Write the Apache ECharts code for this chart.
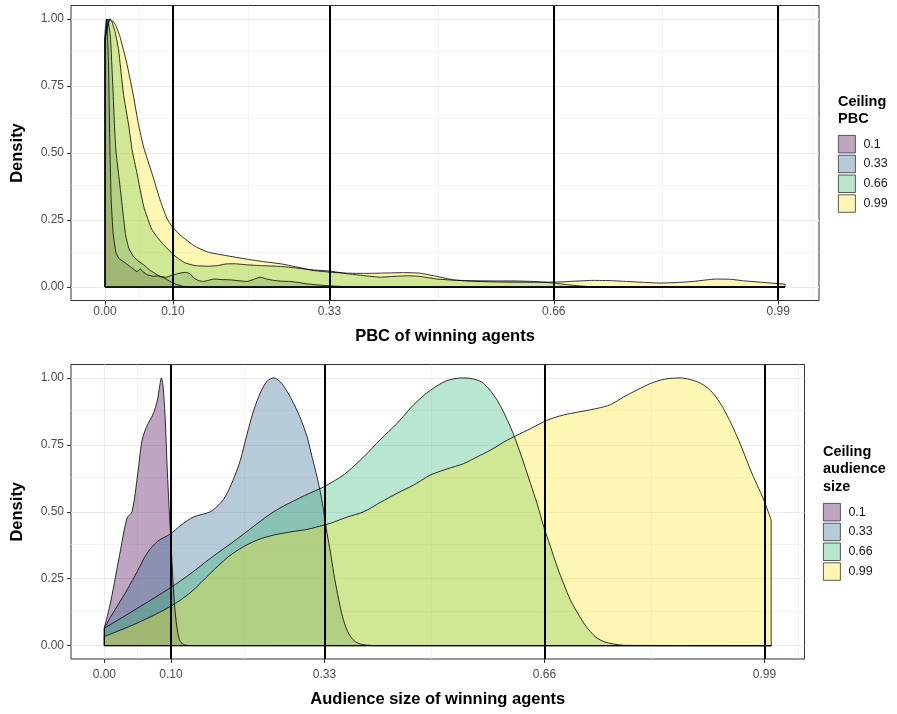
<!DOCTYPE html>
<html>
<head>
<meta charset="utf-8">
<script src="https://cdn.jsdelivr.net/npm/echarts@6/dist/echarts.min.js"></script>
<style>html,body{margin:0;padding:0;background:#fff}#c{width:897px;height:714px}</style>
</head>
<body>
<div id="c"></div>
<script>
// ---------- data ----------
const seriesNames = ['0.1', '0.33', '0.66', '0.99'];
const ceilings = [0.1, 0.33, 0.66, 0.99];
const xTickValues = [0, 0.1, 0.33, 0.66, 0.99];
const xTickLabels = ['0.00', '0.10', '0.33', '0.66', '0.99'];
const yTickValues = [0, 0.25, 0.5, 0.75, 1];
const yTickLabels = ['0.00', '0.25', '0.50', '0.75', '1.00'];
const xMinorGrid = [0.05, 0.215, 0.495, 0.825, 1.04];
const yMinorGrid = [0.125, 0.375, 0.625, 0.875];

// Top panel: PBC of winning agents (scaled density)
const pbcX_01 = [0, 0.002, 0.005, 0.007, 0.009, 0.012, 0.016, 0.02, 0.027, 0.035, 0.04, 0.047, 0.052, 0.057, 0.062, 0.067, 0.071, 0.077, 0.084, 0.09, 0.096, 0.105, 0.115, 0.13, 1.0];
const pbcY_01 = [0.95, 1.0, 0.85, 0.55, 0.33, 0.2, 0.13, 0.108, 0.095, 0.08, 0.071, 0.058, 0.067, 0.055, 0.046, 0.043, 0.04, 0.042, 0.037, 0.03, 0.021, 0.01, 0.003, 0, 0];
const pbcX_033 = [0, 0.004, 0.008, 0.012, 0.014, 0.016, 0.02, 0.025, 0.03, 0.035, 0.042, 0.05, 0.057, 0.065, 0.071, 0.081, 0.09, 0.096, 0.104, 0.11, 0.118, 0.125, 0.13, 0.138, 0.145, 0.152, 0.16, 0.172, 0.184, 0.196, 0.209, 0.22, 0.228, 0.238, 0.248, 0.26, 0.272, 0.285, 0.297, 0.313, 0.329, 0.35, 0.38, 1.0];
const pbcY_033 = [0.93, 1.0, 0.93, 0.72, 0.6, 0.51, 0.42, 0.31, 0.2, 0.145, 0.114, 0.095, 0.083, 0.065, 0.055, 0.04, 0.037, 0.042, 0.048, 0.052, 0.055, 0.05, 0.035, 0.024, 0.021, 0.025, 0.03, 0.028, 0.027, 0.024, 0.021, 0.03, 0.037, 0.03, 0.025, 0.022, 0.021, 0.017, 0.012, 0.008, 0.005, 0.002, 0, 0];
const pbcX_066 = [0, 0.006, 0.01, 0.015, 0.02, 0.027, 0.035, 0.04, 0.047, 0.057, 0.069, 0.084, 0.101, 0.11, 0.118, 0.133, 0.152, 0.165, 0.177, 0.19, 0.209, 0.23, 0.258, 0.282, 0.306, 0.33, 0.356, 0.38, 0.405, 0.425, 0.445, 0.463, 0.488, 0.512, 0.537, 0.57, 0.6, 0.63, 0.66, 0.68, 0.7, 0.72, 0.75, 1.0];
const pbcY_066 = [0.93, 1.0, 0.99, 0.95, 0.884, 0.723, 0.6, 0.51, 0.425, 0.3, 0.214, 0.164, 0.12, 0.102, 0.09, 0.08, 0.078, 0.08, 0.086, 0.087, 0.083, 0.08, 0.077, 0.071, 0.064, 0.06, 0.05, 0.043, 0.037, 0.04, 0.042, 0.04, 0.03, 0.026, 0.024, 0.023, 0.023, 0.021, 0.015, 0.009, 0.004, 0.001, 0, 0];
const pbcX_099 = [0, 0.0076, 0.015, 0.022, 0.032, 0.042, 0.049, 0.057, 0.069, 0.081, 0.091, 0.099, 0.113, 0.133, 0.152, 0.177, 0.209, 0.233, 0.258, 0.282, 0.306, 0.329, 0.356, 0.38, 0.405, 0.42, 0.439, 0.463, 0.488, 0.512, 0.537, 0.58, 0.62, 0.669, 0.69, 0.718, 0.745, 0.767, 0.79, 0.816, 0.84, 0.865, 0.885, 0.899, 0.92, 0.939, 0.97, 1.0];
const pbcY_099 = [0.92, 1.0, 0.98, 0.934, 0.835, 0.71, 0.61, 0.52, 0.425, 0.325, 0.257, 0.224, 0.189, 0.151, 0.13, 0.118, 0.104, 0.095, 0.087, 0.075, 0.062, 0.056, 0.052, 0.051, 0.052, 0.053, 0.054, 0.052, 0.04, 0.027, 0.022, 0.019, 0.018, 0.019, 0.022, 0.025, 0.024, 0.021, 0.018, 0.015, 0.017, 0.021, 0.027, 0.03, 0.029, 0.0235, 0.017, 0.011];

// Bottom panel: audience size of winning agents (scaled density)
const audX_01 = [0, 0.009, 0.0215, 0.034, 0.0415, 0.05, 0.056, 0.062, 0.068, 0.074, 0.079, 0.083, 0.0855, 0.088, 0.091, 0.094, 0.097, 0.1, 0.103, 0.106, 0.11, 0.114, 0.12, 0.13, 1.0];
const audY_01 = [0.066, 0.158, 0.32, 0.476, 0.5, 0.64, 0.76, 0.81, 0.84, 0.87, 0.91, 0.97, 1.0, 0.97, 0.86, 0.68, 0.52, 0.38, 0.24, 0.13, 0.05, 0.015, 0.003, 0, 0];
const audX_033 = [0, 0.01, 0.02, 0.034, 0.05, 0.064, 0.08, 0.099, 0.115, 0.134, 0.159, 0.175, 0.184, 0.195, 0.204, 0.214, 0.224, 0.235, 0.245, 0.254, 0.264, 0.274, 0.284, 0.294, 0.304, 0.312, 0.319, 0.325, 0.329, 0.334, 0.339, 0.344, 0.35, 0.356, 0.362, 0.369, 0.378, 0.39, 0.41, 1.0];
const audY_033 = [0.065, 0.11, 0.15, 0.208, 0.28, 0.345, 0.39, 0.417, 0.45, 0.481, 0.5, 0.535, 0.569, 0.63, 0.693, 0.79, 0.879, 0.95, 0.99, 1.0, 0.985, 0.95, 0.904, 0.85, 0.78, 0.7, 0.63, 0.56, 0.5, 0.42, 0.35, 0.27, 0.19, 0.12, 0.07, 0.035, 0.012, 0.003, 0, 0];
const audX_066 = [0, 0.05, 0.099, 0.13, 0.159, 0.2, 0.254, 0.3, 0.329, 0.36, 0.389, 0.414, 0.439, 0.464, 0.489, 0.514, 0.539, 0.555, 0.569, 0.589, 0.609, 0.624, 0.639, 0.649, 0.659, 0.669, 0.679, 0.689, 0.699, 0.709, 0.719, 0.729, 0.739, 0.75, 0.764, 0.78, 1.0];
const audY_066 = [0.065, 0.14, 0.216, 0.27, 0.326, 0.4, 0.5, 0.56, 0.593, 0.64, 0.705, 0.77, 0.83, 0.9, 0.954, 0.99, 1.0, 0.995, 0.979, 0.917, 0.817, 0.718, 0.606, 0.53, 0.444, 0.37, 0.295, 0.23, 0.17, 0.125, 0.084, 0.052, 0.028, 0.014, 0.006, 0.001, 0];
const audX_099 = [0, 0.05, 0.099, 0.13, 0.159, 0.185, 0.209, 0.23, 0.254, 0.28, 0.304, 0.329, 0.339, 0.364, 0.389, 0.414, 0.439, 0.464, 0.489, 0.514, 0.539, 0.559, 0.579, 0.599, 0.619, 0.639, 0.659, 0.679, 0.699, 0.719, 0.739, 0.759, 0.779, 0.799, 0.819, 0.84, 0.864, 0.884, 0.899, 0.912, 0.924, 0.937, 0.949, 0.959, 0.969, 0.979, 0.989, 1.0];
const audY_099 = [0.034, 0.085, 0.146, 0.2, 0.27, 0.33, 0.37, 0.395, 0.413, 0.425, 0.434, 0.45, 0.457, 0.48, 0.5, 0.535, 0.569, 0.6, 0.637, 0.66, 0.68, 0.705, 0.73, 0.76, 0.786, 0.81, 0.836, 0.855, 0.867, 0.876, 0.886, 0.9, 0.929, 0.955, 0.979, 0.995, 1.0, 0.99, 0.973, 0.945, 0.904, 0.845, 0.78, 0.72, 0.656, 0.6, 0.544, 0.469];

const pbcXs = [pbcX_01, pbcX_033, pbcX_066, pbcX_099];
const pbcYs = [pbcY_01, pbcY_033, pbcY_066, pbcY_099];
const audXs = [audX_01, audX_033, audX_066, audX_099];
const audYs = [audY_01, audY_033, audY_066, audY_099];

// ---------- styles ----------
const FONT = '"Liberation Sans", Arial, Helvetica, sans-serif';
const fills = ['rgba(68,1,84,0.35)', 'rgba(49,104,142,0.35)', 'rgba(53,183,121,0.35)', 'rgba(253,231,37,0.35)'];

function curvePoints(xs, ys) {
  return xs.map((x, i) => [x, ys[i]]);
}
// the rest of the density polygon outline: left edge, baseline, right edge
function polygonEdges(xs, ys) {
  const n = xs.length - 1;
  return [[xs[0], ys[0]], [xs[0], 0], [xs[n], 0], [xs[n], ys[n]]];
}

const gridMarks = [];
xTickValues.forEach(v => gridMarks.push({ xAxis: v, lineStyle: { width: 1.1 } }));
xMinorGrid.forEach(v => gridMarks.push({ xAxis: v, lineStyle: { width: 0.55 } }));
yTickValues.forEach(v => gridMarks.push({ yAxis: v, lineStyle: { width: 1.1 } }));
yMinorGrid.forEach(v => gridMarks.push({ yAxis: v, lineStyle: { width: 0.55 } }));

function panelSeries(xsArr, ysArr, idx, smooth) {
  const out = [];
  for (let i = 0; i < seriesNames.length; i++) {
    const s = {
      type: 'line',
      name: seriesNames[i],
      xAxisIndex: idx, yAxisIndex: idx,
      data: curvePoints(xsArr[i], ysArr[i]),
      showSymbol: false, symbol: 'none',
      smooth: smooth,
      lineStyle: { color: '#000', width: 0.8 },
      itemStyle: { color: fills[i] },
      areaStyle: { color: fills[i], opacity: 1, origin: 'auto' },
      emphasis: { disabled: true },
      silent: true,
      z: 2
    };
    if (i === 0) {
      s.markLine = {
        silent: true, symbol: 'none', z: 1, animation: false,
        label: { show: false },
        lineStyle: { color: '#EBEBEB', type: 'solid' },
        emphasis: { disabled: true },
        data: gridMarks
      };
    }
    if (i === seriesNames.length - 1) {
      s.markLine = {
        silent: true, symbol: 'none', z: 10, animation: false,
        label: { show: false },
        lineStyle: { color: '#000', type: 'solid', width: 2 },
        emphasis: { disabled: true },
        data: ceilings.map(c => ({ xAxis: c }))
      };
    }
    out.push(s);
    out.push({
      type: 'line',
      name: seriesNames[i] + ' edge',
      xAxisIndex: idx, yAxisIndex: idx,
      data: polygonEdges(xsArr[i], ysArr[i]),
      showSymbol: false, symbol: 'none', smooth: false,
      lineStyle: { color: '#000', width: 0.8 },
      emphasis: { disabled: true },
      silent: true,
      z: 2
    });
  }
  return out;
}

function xAxisCfg(idx, name, labelMargin, nameGap) {
  return {
    type: 'value', gridIndex: idx, min: -0.05, max: 1.05,
    name: name, nameLocation: 'middle', nameGap: nameGap,
    nameTextStyle: { fontFamily: FONT, fontSize: 16.5, fontWeight: 'bold', color: '#000' },
    axisLine: { show: false, onZero: false },
    axisTick: { show: true, customValues: xTickValues, length: 4, lineStyle: { color: '#333', width: 1 } },
    axisLabel: { customValues: xTickValues, margin: labelMargin, fontFamily: FONT, fontSize: 12, color: '#4D4D4D',
      formatter: v => { const k = xTickValues.findIndex(t => Math.abs(t - v) < 1e-9); return k >= 0 ? xTickLabels[k] : ''; } },
    splitLine: { show: false }
  };
}
function yAxisCfg(idx) {
  return {
    type: 'value', gridIndex: idx, min: -0.05, max: 1.05,
    name: 'Density', nameLocation: 'middle', nameGap: 45, nameRotate: 90,
    nameTextStyle: { fontFamily: FONT, fontSize: 16.5, fontWeight: 'bold', color: '#000' },
    axisLine: { show: false, onZero: false },
    axisTick: { show: true, customValues: yTickValues, length: 4, lineStyle: { color: '#333', width: 1 } },
    axisLabel: { customValues: yTickValues, margin: 7, fontFamily: FONT, fontSize: 12, color: '#4D4D4D',
      formatter: v => { const k = yTickValues.findIndex(t => Math.abs(t - v) < 1e-9); return k >= 0 ? yTickLabels[k] : ''; } },
    splitLine: { show: false }
  };
}

function legendCfg(left, top) {
  return {
    orient: 'vertical', left: left, top: top, icon: 'rect', padding: 0,
    itemWidth: 17, itemHeight: 17.5, itemGap: 1.5, selectedMode: false,
    textStyle: { fontFamily: FONT, fontSize: 12.5, color: '#1A1A1A', padding: [0, 0, 0, 3] },
    data: seriesNames.map((n, i) => ({ name: n, icon: 'rect', itemStyle: { color: fills[i], borderColor: '#333', borderWidth: 0.8 } }))
  };
}

const chart = echarts.init(document.getElementById('c'), null, { renderer: 'canvas' });
chart.setOption({
  animation: false,
  backgroundColor: '#fff',
  grid: [
    { left: 71, top: 5.5, width: 748, height: 295, show: true, borderColor: '#333', borderWidth: 1, backgroundColor: 'transparent' },
    { left: 71, top: 364.5, width: 733.5, height: 294.5, show: true, borderColor: '#333', borderWidth: 1, backgroundColor: 'transparent' }
  ],
  xAxis: [xAxisCfg(0, 'PBC of winning agents', 5, 27), xAxisCfg(1, 'Audience size of winning agents', 10, 32)],
  yAxis: [yAxisCfg(0), yAxisCfg(1)],
  legend: [legendCfg(838, 135), legendCfg(823, 503)],
  graphic: [
    { type: 'text', left: 838, top: 93, style: { text: 'Ceiling\nPBC', font: 'bold 14.5px ' + FONT, fill: '#000', lineHeight: 17.5 } },
    { type: 'text', left: 823, top: 443, style: { text: 'Ceiling\naudience\nsize', font: 'bold 14.5px ' + FONT, fill: '#000', lineHeight: 17.5 } }
  ],
  series: panelSeries(pbcXs, pbcYs, 0, 0.15).concat(panelSeries(audXs, audYs, 1, 0.3))
});
</script>
</body>
</html>
